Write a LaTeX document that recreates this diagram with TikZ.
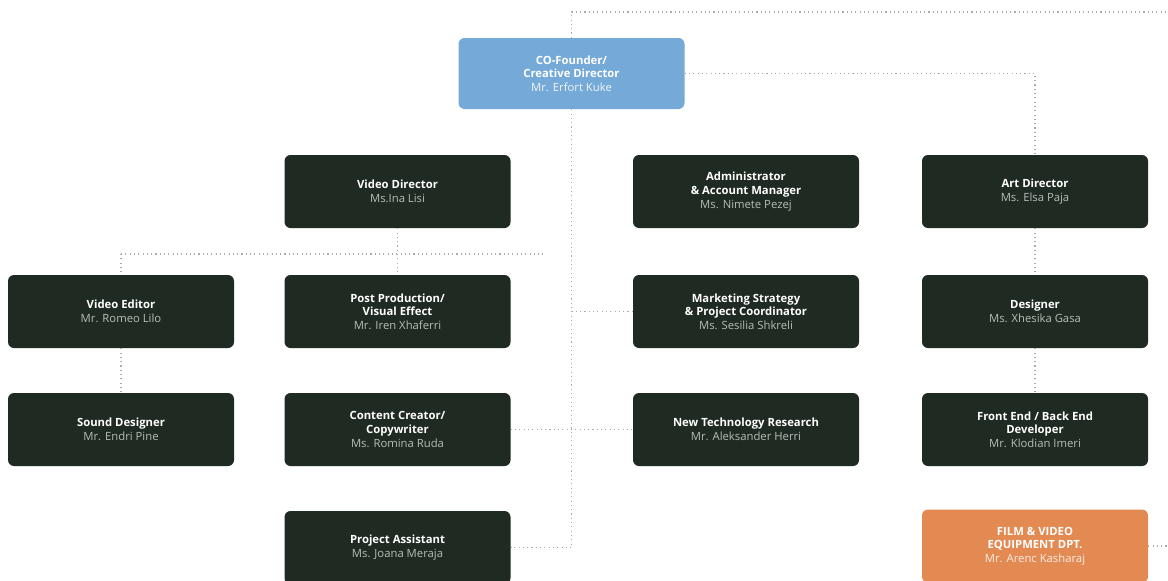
\documentclass[tikz,border=0pt]{standalone}
\usepackage{fontspec}
\setmainfont{Open Sans}
\definecolor{boxdark}{HTML}{1E2A22}
\definecolor{boxblue}{HTML}{74A9D8}
\definecolor{boxorange}{HTML}{E38A52}
\definecolor{namegray}{HTML}{B9BDB9}
\definecolor{linegray}{HTML}{ABABAB}
\tikzset{
  card/.style={rectangle, rounded corners=6pt, minimum width=226pt, minimum height=73pt,
    fill=boxdark, text=white, align=center, font=\fontsize{11.3}{13.6}\selectfont, inner sep=0pt},
  bluecard/.style={card, fill=boxblue, minimum height=71pt},
  orangecard/.style={card, fill=boxorange},
  link/.style={draw=linegray, line width=1.1pt, dash pattern=on 1.1pt off 3.2pt}
}
\newcommand{\ttl}[1]{\textbf{#1}}
\newcommand{\nm}[1]{{\color{namegray}#1}}
\newcommand{\nmo}[1]{{\color{white!85!boxorange}#1}}
\newcommand{\nmb}[1]{{\color{white!90!boxblue}#1}}
\begin{document}
\begin{tikzpicture}[x=1pt,y=-1pt]
\useasboundingbox (0,0) rectangle (1168,581);
\fill[white] (0,0) rectangle (1168,581);

% nodes
\node[bluecard] (ceo) at (571.5,73.5) {\ttl{CO-Founder/}\\\ttl{Creative Director}\\\nmb{Mr. Erfort Kuke}};

\node[card] (vd) at (397.5,191.5) {\ttl{Video Director}\\\nm{Ms.Ina Lisi}};
\node[card] (adm) at (746,191.5) {\ttl{Administrator}\\\ttl{\& Account Manager}\\\nm{Ms. Nimete Pezej}};
\node[card] (art) at (1035,191.5) {\ttl{Art Director}\\\nm{Ms. Elsa Paja}};

\node[card] (ve) at (121,311.5) {\ttl{Video Editor}\\\nm{Mr. Romeo Lilo}};
\node[card] (pp) at (397.5,311.5) {\ttl{Post Production/}\\\ttl{Visual Effect}\\\nm{Mr. Iren Xhaferri}};
\node[card] (mkt) at (746,311.5) {\ttl{Marketing Strategy}\\\ttl{\& Project Coordinator}\\\nm{Ms. Sesilia Shkreli}};
\node[card] (des) at (1035,311.5) {\ttl{Designer}\\\nm{Ms. Xhesika Gasa}};

\node[card] (sd) at (121,429.5) {\ttl{Sound Designer}\\\nm{Mr. Endri Pine}};
\node[card] (cc) at (397.5,429.5) {\ttl{Content Creator/}\\\ttl{Copywriter}\\\nm{Ms. Romina Ruda}};
\node[card] (nt) at (746,429.5) {\ttl{New Technology Research}\\\nm{Mr. Aleksander Herri}};
\node[card] (fe) at (1035,429.5) {\ttl{Front End / Back End}\\\ttl{Developer}\\\nm{Mr. Klodian Imeri}};

\node[card] (pa) at (397.5,547.5) {\ttl{Project Assistant}\\\nm{Ms. Joana Meraja}};
\node[orangecard] (film) at (1035,546) {\ttl{FILM \& VIDEO}\\\ttl{EQUIPMENT DPT.}\\\nmo{Mr. Arenc Kasharaj}};

% free ends
\coordinate (topend) at (1168,12);
\coordinate (filmend) at (1168,546);
\coordinate (vdbarL) at (121,254);
\coordinate (vdbarR) at (543,254);
\coordinate (trunkend) at (571.5,547.5);

% connectors
\draw[link] (ceo.north) -- (571.5,12) -- (topend);
\draw[link] (ceo.east) -| (art.north);
\draw[link] (ceo.south) -- (trunkend) -- (pa.east);
\draw[link] (571.5,311.5) -- (mkt.west);
\draw[link] (cc.east) -- (nt.west);
\draw[link] (vd.south) -- (397.5,254);
\draw[link] (vdbarL) -- (vdbarR);
\draw[link] (vdbarL) -- (ve.north);
\draw[link] (397.5,254) -- (pp.north);
\draw[link] (ve.south) -- (sd.north);
\draw[link] (art.south) -- (des.north);
\draw[link] (des.south) -- (fe.north);
\draw[link] (film.east) -- (filmend);
\end{tikzpicture}
\end{document}
